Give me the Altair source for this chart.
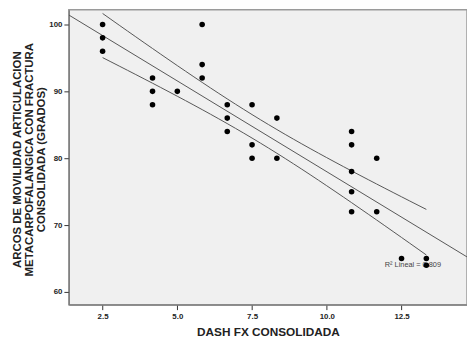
import altair as alt
import numpy as np
import pandas as pd

# DASH FX scores and joint range of motion (degrees)
dash = [2.5, 2.5, 2.5,
        4.17, 4.17, 4.17,
        5.0,
        5.83, 5.83, 5.83,
        6.67, 6.67, 6.67,
        7.5, 7.5, 7.5,
        8.33, 8.33,
        10.83, 10.83, 10.83, 10.83, 10.83,
        11.67, 11.67,
        12.5,
        13.33, 13.33]
arcos = [100, 98, 96,
         92, 90, 88,
         90,
         100, 94, 92,
         88, 86, 84,
         88, 82, 80,
         86, 80,
         84, 82, 78, 75, 72,
         80, 72,
         65,
         65, 64]

x_domain = [1.37, 14.69]
y_domain = [58.1, 102.2]
x_ticks = [2.5, 5.0, 7.5, 10.0, 12.5]
y_ticks = [60, 70, 80, 90, 100]
r2_label = "R² Lineal = 0.809"
label_pos = [12.88, 64.0]

df = pd.DataFrame({"x": dash, "y": arcos})

# least-squares fit and 95% confidence band for the mean
xa = np.array(dash, dtype=float)
ya = np.array(arcos, dtype=float)
n = len(xa)
b1, b0 = np.polyfit(xa, ya, 1)
resid = ya - (b0 + b1 * xa)
s = np.sqrt(np.sum(resid ** 2) / (n - 2))
sxx = np.sum((xa - xa.mean()) ** 2)
t_crit = 2.056
xg = np.linspace(xa.min(), xa.max(), 40)
yhat = b0 + b1 * xg
se = s * np.sqrt(1.0 / n + (xg - xa.mean()) ** 2 / sxx)
band = pd.DataFrame({
    "x": np.concatenate([xg, xg]),
    "y": np.concatenate([yhat + t_crit * se, yhat - t_crit * se]),
    "g": ["upper"] * len(xg) + ["lower"] * len(xg),
})
fit = pd.DataFrame({"x": x_domain, "y": [b0 + b1 * v for v in x_domain]})

font = "Liberation Sans"

xscale = alt.Scale(domain=x_domain, nice=False, zero=False)
yscale = alt.Scale(domain=y_domain, nice=False, zero=False)

xaxis = alt.Axis(
    title="DASH FX CONSOLIDADA", values=x_ticks, format=".1f", grid=False,
    domainColor="#7a7a7a", domainWidth=1.2, tickColor="#333", tickSize=5,
    labelFont=font, labelFontSize=8, labelFontWeight="bold", labelColor="#222",
    labelPadding=3,
    titleFont=font, titleFontSize=12, titleFontWeight="bold", titleColor="#222",
    titlePadding=6,
)
yaxis = alt.Axis(
    title=["ARCOS DE MOVILIDAD ARTICULACION",
           "METACARPOFALANGICA CON FRACTURA",
           "CONSOLIDADA (GRADOS)"],
    values=y_ticks, grid=False,
    domainColor="#7a7a7a", domainWidth=1.2, tickColor="#333", tickSize=5,
    labelFont=font, labelFontSize=8, labelFontWeight="bold", labelColor="#222",
    labelPadding=2,
    titleFont=font, titleFontSize=11.6, titleFontWeight="bold", titleColor="#222",
    titleLineHeight=12, titleX=-52, titleY=152, titleAlign="center",
    titleBaseline="middle",
)

x_enc = alt.X("x:Q", scale=xscale, axis=xaxis)
y_enc = alt.Y("y:Q", scale=yscale, axis=yaxis)

fit_line = alt.Chart(fit).mark_line(color="#555", strokeWidth=1, clip=True).encode(
    x=x_enc, y=y_enc)
band_lines = alt.Chart(band).mark_line(color="#555", strokeWidth=1, clip=True).encode(
    x=alt.X("x:Q", scale=xscale), y=alt.Y("y:Q", scale=yscale), detail="g:N")
label = alt.Chart(pd.DataFrame({"x": [label_pos[0]], "y": [label_pos[1]], "t": [r2_label]})).mark_text(
    font=font, fontSize=7.5, color="#444", align="center", baseline="middle"
).encode(x=alt.X("x:Q", scale=xscale), y=alt.Y("y:Q", scale=yscale), text="t:N")
points = alt.Chart(df).mark_circle(color="black", opacity=1, size=32).encode(
    x=alt.X("x:Q", scale=xscale), y=alt.Y("y:Q", scale=yscale))

chart = alt.layer(fit_line, band_lines, label, points).properties(
    width=405, height=300,
    autosize=alt.AutoSizeParams(type="none"),
    padding={"left": 70, "top": 7, "right": 0, "bottom": 35},
    background="white",
).configure_view(fill="#f0f0f0", stroke="#9a9a9a", strokeWidth=1.5)

chart.save("out.html", embed_options={"renderer": "svg", "actions": False})
